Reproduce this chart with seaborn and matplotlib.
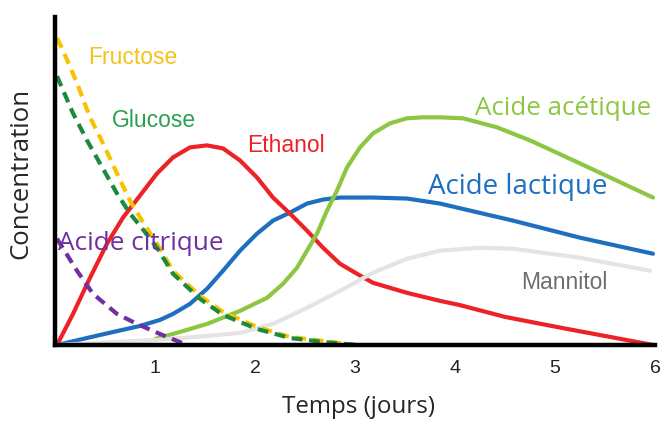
import matplotlib
matplotlib.use("Agg")
import matplotlib.pyplot as plt
import seaborn as sns

# values (time in days, concentration in arbitrary units)
FRUCTOSE_T = [0.02, 0.07, 0.22, 0.35, 0.48, 0.62, 0.75, 0.85, 1.02, 1.18, 1.45, 1.68, 2.02, 2.35, 2.68, 3.02]
FRUCTOSE_C = [306, 296, 261, 227, 201, 171, 144, 127, 101, 74, 49, 33, 18, 8, 4, 0]

GLUCOSE_T = [0.02, 0.18, 0.32, 0.45, 0.62, 0.75, 0.85, 1.02, 1.18, 1.45, 1.68, 2.02, 2.35, 2.68, 3.02]
GLUCOSE_C = [268, 231, 204, 181, 151, 131, 119, 97, 71, 46, 30, 16, 7, 3, 0]

CITRIQUE_T = [0.02, 0.22, 0.38, 0.62, 0.82, 1.05, 1.32]
CITRIQUE_C = [106, 74, 51, 31, 21, 11, 0]

ETHANOL_T = [0.02, 0.18, 0.35, 0.52, 0.68, 0.85, 1.02, 1.18, 1.35, 1.52, 1.68, 1.85, 2.02, 2.18,
             2.35, 2.52, 2.68, 2.85, 3.02, 3.18, 3.52, 3.85, 4.04, 4.5, 5.07, 5.5, 5.98]
ETHANOL_C = [0, 31, 67, 101, 127, 149, 171, 187, 197, 199, 196, 184, 167, 147,
             131, 114, 97, 81, 71, 62, 52, 44, 40, 28, 17, 9, 0]

LACTIQUE_T = [0.02, 0.45, 0.85, 1.05, 1.18, 1.35, 1.52, 1.68, 1.85, 2.02, 2.18, 2.35, 2.52, 2.68, 2.85,
              3.18, 3.52, 3.85, 4.58, 5.25, 5.98]
LACTIQUE_C = [0, 10, 19, 25, 31, 41, 56, 74, 94, 111, 124, 132, 141, 145, 147,
              147, 146, 141, 124, 107, 91]

ACETIQUE_T = [1.0, 1.18, 1.52, 1.85, 2.12, 2.28, 2.42, 2.52, 2.62, 2.72, 2.82, 2.92, 3.05, 3.18,
              3.35, 3.52, 3.68, 3.85, 4.08, 4.42, 4.75, 5.25, 5.98]
ACETIQUE_C = [6, 11, 21, 34, 47, 61, 77, 94, 111, 134, 154, 177, 197, 211,
              221, 226, 227, 227, 226, 217, 204, 181, 147]

MANNITOL_T = [0.02, 0.6, 1.0, 1.4, 1.85, 2.18, 2.52, 2.85, 3.18, 3.52, 3.85, 4.25, 4.58, 5.25, 5.95]
MANNITOL_C = [0, 3, 5, 8, 12, 21, 37, 54, 72, 86, 94, 97, 96, 87, 74]

X_TICKS = [1, 2, 3, 4, 5, 6]

sns.set_style("white")
plt.rcParams["font.family"] = ["Liberation Sans", "DejaVu Sans"]
plt.rcParams["lines.solid_joinstyle"] = "round"
plt.rcParams["lines.dash_joinstyle"] = "round"

fig = plt.figure(figsize=(6.63, 4.23), dpi=100)
ax = fig.add_axes([55 / 663, 78 / 423, 600 / 663, 328 / 423])

DASH = (0, (2.6, 1.6))
LW = 3

sns.lineplot(x=LACTIQUE_T, y=LACTIQUE_C, ax=ax, color="#1f6fc0", linewidth=LW)
sns.lineplot(x=ETHANOL_T, y=ETHANOL_C, ax=ax, color="#ec2227", linewidth=LW)
sns.lineplot(x=ACETIQUE_T, y=ACETIQUE_C, ax=ax, color="#8dc641", linewidth=LW)
sns.lineplot(x=MANNITOL_T, y=MANNITOL_C, ax=ax, color="#e4e4e4", linewidth=LW)
sns.lineplot(x=CITRIQUE_T, y=CITRIQUE_C, ax=ax, color="#7030a0", linewidth=LW, linestyle=DASH)
sns.lineplot(x=FRUCTOSE_T, y=FRUCTOSE_C, ax=ax, color="#f7c300", linewidth=LW, linestyle=DASH)
sns.lineplot(x=GLUCOSE_T, y=GLUCOSE_C, ax=ax, color="#1c8a3c", linewidth=LW, linestyle=DASH)

arial = 16.5
segoe = ["Open Sans", "DejaVu Sans"]
ax.text(0.33, 287, "Fructose", color="#f5c21b", fontsize=arial, va="center")
ax.text(0.57, 224, "Glucose", color="#2aa152", fontsize=arial, va="center")
ax.text(1.92, 199, "Ethanol", color="#ec2227", fontsize=arial, va="center")
ax.text(4.66, 62, "Mannitol", color="#6e6e6e", fontsize=arial, va="center")
ax.text(4.2, 236, "Acide acétique", color="#8dc641", va="center", family=segoe, fontsize=18.6)
ax.text(3.73, 158, "Acide lactique", color="#1f6fc0", va="center", family=segoe, fontsize=20)
ax.text(0.03, 101, "Acide citrique", color="#7030a0", va="center", family=segoe, fontsize=18.8)

ax.set_xlim(0, 6)
ax.set_ylim(0, 327)
ax.set_xticks(X_TICKS)
ax.set_xticklabels([str(t) for t in X_TICKS], fontsize=14)
ax.set_yticks([])
ax.tick_params(axis="x", direction="in", length=6, width=2.5, pad=11, colors="black")
ax.tick_params(axis="x", labelcolor="#222222")

for side in ["top", "right"]:
    ax.spines[side].set_visible(False)
for side in ["left", "bottom"]:
    ax.spines[side].set_color("black")
    ax.spines[side].set_linewidth(3.2)

ax.set_xlabel("Temps (jours)", fontsize=17.4, family=segoe)
ax.set_ylabel("Concentration", fontsize=18.5, family=segoe)
ax.xaxis.set_label_coords(0.505, -0.152)
ax.yaxis.set_label_coords(-0.036, 0.524)

fig.savefig("out.png", dpi=100)
